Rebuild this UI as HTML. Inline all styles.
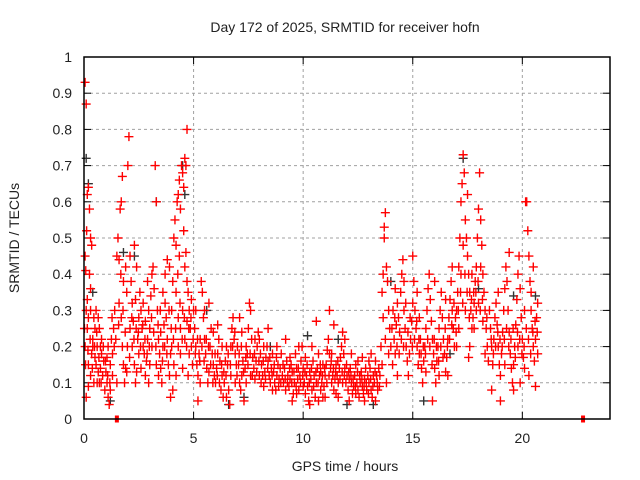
<!DOCTYPE html>
<html><head><meta charset="utf-8"><style>
html,body{margin:0;padding:0;background:#fff;}
svg{display:block;font-family:"Liberation Sans",sans-serif;}
</style></head><body>
<svg id="chart" width="640" height="480" viewBox="0 0 640 480" xmlns="http://www.w3.org/2000/svg">
<rect width="640" height="480" fill="#fff"/>
<text x="345" y="32" font-size="14" text-anchor="middle" fill="#222">Day 172 of 2025, SRMTID for receiver hofn</text>
<text x="345" y="471" font-size="14" text-anchor="middle" fill="#222">GPS time / hours</text>
<text transform="translate(19,238) rotate(-90)" font-size="14" text-anchor="middle" fill="#222">SRMTID / TECUs</text>
<g id="grid"></g>
<g id="ticks"></g>
<g id="marks"></g>
<rect x="84" y="57" width="526" height="362" fill="none" stroke="#000" stroke-width="1.5"/>
</svg>
<script>
const xTicks=[0,5,10,15,20];
const yTicks=[0,0.1,0.2,0.3,0.4,0.5,0.6,0.7,0.8,0.9,1];
const yTickLabels=["0","0.1","0.2","0.3","0.4","0.5","0.6","0.7","0.8","0.9","1"];
const zeroMarks=[1.5,22.77];
const redPoints=[[0.05,0.93],[0.1,0.87],[0.05,0.45],[0.08,0.41],[0.12,0.52],[0.15,0.62],[0.2,0.64],[0.25,0.58],[0.1,0.3],[0.15,0.25],[0.05,0.2],[0.2,0.15],[0.3,0.12],[0.35,0.18],[0.4,0.22],[0.45,0.28],[0.3,0.3],[0.5,0.25],[0.55,0.15],[0.6,0.1],[0.25,0.4],[0.3,0.5],[0.35,0.48],[0.4,0.2],[0.5,0.17],[0.6,0.2],[0.65,0.13],[0.7,0.1],[0.75,0.14],[0.8,0.18],[0.85,0.12],[0.9,0.16],[0.95,0.08],[0.1,0.06],[0.2,0.09],[0.45,0.1],[0.55,0.3],[0.7,0.25],[0.8,0.22],[0.3,0.36],[0.15,0.33],[0.2,0.28],[0.65,0.28],[0.75,0.2],
[1.0,0.13],[1.05,0.1],[1.1,0.06],[1.15,0.04],[1.2,0.08],[1.05,0.17],[1.1,0.2],[1.2,0.15],[1.3,0.12],[1.35,0.25],[1.4,0.3],[1.45,0.22],[1.5,0.45],[1.55,0.5],[1.6,0.44],[1.65,0.58],[1.7,0.6],[1.75,0.67],[1.6,0.32],[1.7,0.28],[1.75,0.2],[1.8,0.15],[1.85,0.1],[1.9,0.14],[1.95,0.13],[1.8,0.38],[1.9,0.42],[1.95,0.35],[1.3,0.18],[1.5,0.1],[1.25,0.22],
[2.0,0.7],[2.05,0.78],[2.1,0.45],[2.15,0.38],[2.2,0.32],[2.1,0.25],[2.2,0.2],[2.3,0.15],[2.35,0.1],[2.4,0.13],[2.45,0.22],[2.5,0.28],[2.55,0.35],[2.6,0.3],[2.65,0.25],[2.7,0.2],[2.75,0.18],[2.8,0.12],[2.85,0.16],[2.9,0.22],[2.95,0.3],[2.3,0.48],[2.4,0.42],[2.5,0.18],[2.6,0.14],[2.7,0.32],[2.8,0.27],[2.9,0.38],[2.25,0.27],[2.35,0.33],[2.95,0.1],
[3.0,0.25],[3.05,0.34],[3.1,0.4],[3.15,0.42],[3.2,0.36],[3.25,0.7],[3.3,0.6],[3.35,0.3],[3.4,0.22],[3.45,0.18],[3.5,0.14],[3.55,0.1],[3.6,0.2],[3.65,0.26],[3.7,0.32],[3.75,0.28],[3.8,0.22],[3.85,0.15],[3.9,0.12],[3.95,0.18],[3.3,0.15],[3.5,0.24],[3.7,0.4],[3.8,0.44],[3.9,0.42],[3.6,0.35],[3.4,0.12],[3.0,0.15],[3.1,0.2],[3.95,0.06],
[4.0,0.3],[4.05,0.38],[4.1,0.5],[4.15,0.55],[4.2,0.48],[4.25,0.6],[4.3,0.62],[4.35,0.66],[4.4,0.58],[4.45,0.7],[4.5,0.68],[4.55,0.64],[4.6,0.72],[4.65,0.7],[4.7,0.8],[4.2,0.35],[4.3,0.28],[4.4,0.25],[4.5,0.3],[4.6,0.42],[4.7,0.38],[4.75,0.35],[4.8,0.3],[4.85,0.25],[4.9,0.2],[4.95,0.15],[4.0,0.2],[4.1,0.15],[4.2,0.12],[4.3,0.2],[4.4,0.18],[4.5,0.14],[4.6,0.22],[4.7,0.27],[4.8,0.18],[4.05,0.08],[4.35,0.45],[4.55,0.52],[4.65,0.46],[4.9,0.33],[4.75,0.12],
[5.0,0.3],[5.05,0.25],[5.1,0.2],[5.15,0.15],[5.2,0.12],[5.25,0.18],[5.3,0.22],[5.35,0.38],[5.4,0.35],[5.45,0.28],[5.5,0.22],[5.55,0.18],[5.6,0.14],[5.65,0.1],[5.7,0.13],[5.75,0.2],[5.8,0.25],[5.85,0.18],[5.9,0.15],[5.95,0.12],[6.0,0.1],[6.05,0.14],[6.1,0.18],[6.15,0.22],[6.2,0.16],[6.25,0.08],[6.3,0.12],[6.35,0.06],[6.4,0.1],[6.45,0.16],[6.5,0.2],[6.55,0.15],[6.6,0.08],[6.65,0.04],[6.7,0.2],[6.75,0.25],[6.8,0.28],[6.85,0.22],[6.9,0.18],[6.95,0.15],[5.1,0.3],[5.3,0.1],[5.5,0.3],[5.7,0.32],[5.9,0.24],[6.1,0.26],[6.3,0.2],[6.5,0.06],[6.7,0.12],[6.9,0.1],[5.2,0.05],
[7.0,0.2],[7.05,0.15],[7.1,0.1],[7.15,0.08],[7.2,0.12],[7.25,0.16],[7.3,0.05],[7.35,0.14],[7.4,0.2],[7.45,0.18],[7.5,0.25],[7.55,0.32],[7.6,0.3],[7.65,0.22],[7.7,0.17],[7.75,0.14],[7.8,0.11],[7.85,0.16],[7.9,0.2],[7.95,0.24],[8.0,0.22],[8.05,0.18],[8.1,0.15],[8.15,0.12],[8.2,0.09],[8.25,0.13],[8.3,0.17],[8.35,0.2],[8.4,0.16],[8.45,0.12],[8.5,0.1],[8.55,0.14],[8.6,0.18],[8.65,0.13],[8.7,0.1],[8.75,0.08],[8.8,0.12],[8.85,0.15],[8.9,0.11],[8.95,0.14],[7.2,0.24],[7.4,0.1],[7.6,0.12],[7.8,0.22],[8.0,0.12],[8.2,0.2],[8.4,0.25],[8.6,0.08],[8.8,0.2],[7.1,0.28],[9.0,0.18],
[9.05,0.12],[9.1,0.1],[9.15,0.14],[9.2,0.08],[9.25,0.16],[9.3,0.12],[9.35,0.09],[9.4,0.11],[9.45,0.15],[9.5,0.13],[9.55,0.07],[9.6,0.1],[9.65,0.18],[9.7,0.14],[9.75,0.11],[9.8,0.08],[9.85,0.12],[9.9,0.16],[9.95,0.2],[10.0,0.14],[10.05,0.1],[10.1,0.07],[10.15,0.12],[10.2,0.09],[10.25,0.05],[10.3,0.13],[10.35,0.11],[10.4,0.08],[10.45,0.16],[10.5,0.12],[10.55,0.06],[10.6,0.1],[10.65,0.14],[10.7,0.18],[10.75,0.12],[10.8,0.08],[10.85,0.1],[10.9,0.06],[10.95,0.09],[11.0,0.12],[11.05,0.15],[11.1,0.19],[11.15,0.22],[11.2,0.18],[11.25,0.14],[11.3,0.1],[11.35,0.12],[11.4,0.08],[11.45,0.11],[11.5,0.15],[11.55,0.12],[11.6,0.1],[11.65,0.14],[11.7,0.17],[11.75,0.2],[11.8,0.24],[11.85,0.18],[11.9,0.14],[11.95,0.1],[12.0,0.12],[12.05,0.08],[12.1,0.11],[12.15,0.14],[12.2,0.1],[12.25,0.07],[12.3,0.09],[12.35,0.12],[12.4,0.15],[12.45,0.1],[12.5,0.08],[12.55,0.06],[12.6,0.1],[12.65,0.13],[12.7,0.09],[12.75,0.07],[12.8,0.11],[12.85,0.14],[12.9,0.08],[12.95,0.12],[13.0,0.1],[13.05,0.14],[13.1,0.08],[13.15,0.06],[13.2,0.12],[13.25,0.1],[13.3,0.16],[13.35,0.12],[13.4,0.08],[13.45,0.14],[9.2,0.22],[9.5,0.05],[9.8,0.2],[10.1,0.17],[10.4,0.2],[10.7,0.05],[11.0,0.06],[11.3,0.18],[11.6,0.06],[11.9,0.22],[12.2,0.18],[12.5,0.16],[12.8,0.05],[13.1,0.18],[9.7,0.07],[10.3,0.04],[10.9,0.15],[11.5,0.07],[12.1,0.05],[12.7,0.17],[13.3,0.05],[10.6,0.27],[11.2,0.3],[11.4,0.26],[9.4,0.17],[10.0,0.09],[10.8,0.13],[11.8,0.1],[12.4,0.07],[13.0,0.16],
[13.5,0.12],[13.55,0.2],[13.6,0.35],[13.65,0.4],[13.7,0.5],[13.75,0.57],[13.7,0.53],[13.8,0.42],[13.85,0.38],[13.9,0.3],[13.95,0.25],[13.6,0.15],[13.8,0.1],[13.9,0.18],[13.65,0.28],[13.75,0.22],
[14.0,0.2],[14.05,0.25],[14.1,0.3],[14.15,0.22],[14.2,0.18],[14.25,0.26],[14.3,0.32],[14.35,0.28],[14.4,0.24],[14.45,0.35],[14.5,0.4],[14.55,0.44],[14.6,0.3],[14.65,0.25],[14.7,0.2],[14.75,0.16],[14.8,0.12],[14.85,0.18],[14.9,0.22],[14.95,0.27],[15.0,0.32],[15.05,0.38],[15.1,0.3],[15.15,0.25],[15.2,0.2],[15.25,0.15],[15.3,0.18],[15.35,0.22],[15.4,0.14],[15.45,0.1],[15.5,0.16],[15.55,0.2],[15.6,0.25],[15.65,0.3],[15.7,0.36],[15.75,0.4],[15.8,0.33],[15.85,0.27],[15.9,0.22],[15.95,0.18],[16.0,0.14],[16.05,0.1],[16.1,0.16],[16.15,0.2],[16.2,0.25],[16.25,0.3],[16.3,0.35],[16.35,0.28],[16.4,0.22],[16.45,0.18],[16.5,0.13],[16.55,0.17],[16.6,0.22],[16.65,0.28],[16.7,0.33],[16.75,0.38],[16.8,0.3],[16.85,0.25],[16.9,0.2],[16.95,0.28],[14.3,0.12],[14.6,0.38],[15.0,0.45],[15.3,0.28],[15.6,0.13],[15.9,0.05],[16.2,0.12],[16.5,0.33],[16.8,0.42],[14.2,0.36],[15.2,0.35],[16.0,0.38],[16.6,0.12],
[17.0,0.3],[17.05,0.35],[17.1,0.42],[17.15,0.5],[17.2,0.6],[17.25,0.65],[17.3,0.73],[17.35,0.68],[17.4,0.55],[17.45,0.5],[17.5,0.45],[17.55,0.4],[17.6,0.35],[17.65,0.3],[17.7,0.25],[17.75,0.28],[17.8,0.32],[17.85,0.38],[17.9,0.42],[17.95,0.5],[18.0,0.58],[18.05,0.68],[18.1,0.55],[18.15,0.48],[18.2,0.4],[18.25,0.35],[18.3,0.3],[18.35,0.25],[18.4,0.2],[18.45,0.16],[17.2,0.4],[17.4,0.3],[17.6,0.2],[17.8,0.25],[18.0,0.32],[18.2,0.27],[17.1,0.25],[17.3,0.48],[17.5,0.62],[17.7,0.4],[17.9,0.3],[18.1,0.42],[18.3,0.18],[17.0,0.2],[17.55,0.17],
[18.5,0.3],[18.55,0.25],[18.6,0.2],[18.65,0.15],[18.7,0.22],[18.75,0.28],[18.8,0.32],[18.85,0.26],[18.9,0.2],[18.95,0.15],[19.0,0.12],[19.05,0.18],[19.1,0.24],[19.15,0.3],[19.2,0.36],[19.25,0.42],[19.3,0.38],[19.35,0.3],[19.4,0.24],[19.45,0.18],[19.5,0.14],[19.55,0.1],[19.6,0.15],[19.65,0.2],[19.7,0.26],[19.75,0.33],[19.8,0.4],[19.85,0.45],[19.9,0.36],[19.95,0.28],[20.0,0.22],[20.05,0.17],[20.1,0.14],[20.15,0.6],[20.2,0.6],[20.25,0.52],[20.3,0.45],[20.35,0.38],[20.4,0.3],[20.45,0.25],[20.5,0.2],[20.55,0.16],[20.6,0.22],[20.65,0.28],[20.7,0.32],[18.6,0.08],[19.0,0.05],[19.4,0.46],[19.6,0.08],[19.9,0.1],[20.3,0.12],[20.6,0.09],[20.7,0.18],[18.9,0.35],[19.2,0.15],[19.8,0.2],[20.1,0.3],[20.4,0.35],[20.5,0.42]];
const redExtra=[[0.02,0.25],[0.07,0.15],[0.18,0.19],[0.28,0.22],[0.38,0.14],[0.48,0.2],[0.58,0.24],[0.68,0.17],[0.78,0.1],[0.88,0.2],[0.98,0.16],[1.08,0.12],[1.18,0.1],[1.28,0.28],[1.38,0.2],[1.58,0.26],[1.68,0.4],[1.78,0.3],[1.88,0.24],[1.98,0.2],[2.08,0.17],[2.18,0.28],[2.28,0.22],[2.38,0.25],[2.48,0.24],[2.58,0.2],[2.68,0.26],[2.78,0.22],[2.88,0.18],[2.98,0.2],[3.08,0.28],[3.18,0.24],[3.28,0.2],[3.38,0.26],[3.48,0.3],[3.58,0.16],[3.68,0.2],[3.78,0.18],[3.88,0.3],[3.98,0.25],[4.08,0.22],[4.18,0.25],[4.28,0.4],[4.38,0.32],[4.48,0.22],[4.58,0.28],[4.68,0.2],[4.78,0.25],[4.88,0.28],[4.98,0.22],[5.08,0.18],[5.18,0.22],[5.28,0.16],[5.38,0.2],[5.48,0.16],[5.58,0.22],[5.68,0.2],[5.78,0.15],[5.88,0.1],[5.98,0.18],[6.08,0.12],[6.18,0.1],[6.28,0.15],[6.38,0.13],[6.48,0.12],[6.58,0.18],[6.68,0.15],[6.78,0.2],[6.88,0.24],[6.98,0.12],[7.08,0.18],[7.18,0.2],[7.28,0.13],[7.38,0.17],[7.48,0.15],[7.58,0.18],[7.68,0.12],[7.78,0.18],[7.88,0.13],[7.98,0.16],[8.08,0.1],[8.18,0.16],[8.28,0.11],[8.38,0.14],[8.48,0.17],[8.58,0.12],[8.68,0.15],[8.78,0.17],[8.88,0.09],[8.98,0.1],[9.08,0.15],[9.18,0.11],[9.28,0.1],[9.38,0.14],[9.48,0.1],[9.58,0.13],[9.68,0.09],[9.78,0.14],[9.88,0.1],[9.98,0.12],[10.08,0.13],[10.18,0.15],[10.28,0.1],[10.38,0.14],[10.48,0.09],[10.58,0.13],[10.68,0.1],[10.78,0.15],[10.88,0.12],[10.98,0.14],[11.08,0.1],[11.18,0.12],[11.28,0.16],[11.38,0.14],[11.48,0.13],[11.58,0.16],[11.68,0.11],[11.78,0.13],[11.88,0.12],[11.98,0.15],[12.08,0.13],[12.18,0.12],[12.28,0.11],[12.38,0.09],[12.48,0.13],[12.58,0.12],[12.68,0.11],[12.78,0.09],[12.88,0.1],[12.98,0.07],[13.08,0.11],[13.18,0.09],[13.28,0.13],[13.38,0.1],[13.48,0.09],[14.08,0.15],[14.18,0.28],[14.28,0.2],[14.38,0.18],[14.48,0.22],[14.58,0.2],[14.68,0.32],[14.78,0.24],[14.88,0.28],[14.98,0.2],[15.08,0.22],[15.18,0.27],[15.28,0.22],[15.38,0.18],[15.48,0.2],[15.58,0.18],[15.68,0.22],[15.78,0.2],[15.88,0.15],[15.98,0.22],[16.08,0.2],[16.18,0.16],[16.28,0.2],[16.38,0.17],[16.48,0.25],[16.58,0.2],[16.68,0.22],[16.78,0.26],[16.88,0.32],[16.98,0.24],[17.08,0.3],[17.18,0.35],[17.28,0.32],[17.38,0.4],[17.48,0.35],[17.58,0.28],[17.68,0.33],[17.78,0.35],[17.88,0.35],[17.98,0.38],[18.08,0.3],[18.18,0.33],[18.38,0.28],[18.58,0.22],[18.68,0.18],[18.78,0.2],[18.88,0.24],[18.98,0.22],[19.08,0.2],[19.18,0.22],[19.28,0.25],[19.38,0.2],[19.48,0.22],[19.58,0.25],[19.68,0.17],[19.78,0.24],[19.88,0.22],[19.98,0.18],[20.08,0.2],[20.18,0.25],[20.28,0.22],[20.38,0.18],[20.48,0.24],[20.58,0.27],[20.68,0.24]];
const blackPoints=[[0.1,0.72],[0.2,0.65],[0.4,0.35],[1.2,0.05],[1.8,0.46],[2.3,0.45],[4.5,0.7],[4.6,0.62],[6.6,0.04],[7.3,0.06],[10.2,0.23],[12.0,0.04],[14.0,0.38],[15.5,0.05],[16.7,0.18],[17.3,0.72],[18.0,0.36],[19.6,0.34],[20.6,0.34],[3.3,0.6],[5.6,0.3],[8.5,0.2],[11.6,0.22],[13.2,0.04]];

const L=84,R=610,T=57,B=419,XMAX=24,YMAX=1;
function xs(v){return L+(v/XMAX)*(R-L);}
function ys(v){return B-(v/YMAX)*(B-T);}
const NS="http://www.w3.org/2000/svg";
function mk(tag,attrs,parent){const e=document.createElementNS(NS,tag);for(const k in attrs)e.setAttribute(k,attrs[k]);parent.appendChild(e);return e;}
const grid=document.getElementById('grid'),ticks=document.getElementById('ticks'),marks=document.getElementById('marks');
xTicks.forEach(t=>{
  const x=xs(t);
  if(t>0){const g=mk('line',{x1:x,y1:T,x2:x,y2:B,stroke:'#a0a0a0','stroke-dasharray':'3,3','stroke-width':1},grid);
  
  }
  mk('line',{x1:x,y1:B,x2:x,y2:B-7,stroke:'#000'},ticks);
  mk('line',{x1:x,y1:T,x2:x,y2:T+7,stroke:'#000'},ticks);
  const lb=mk('text',{x:x,y:B+24,'font-size':14,'text-anchor':'middle',fill:'#222'},ticks);
  lb.textContent=String(t);
  
  
});
yTicks.forEach((t,i)=>{
  const y=ys(t);
  if(t>0&&t<1){const g=mk('line',{x1:L,y1:y,x2:R,y2:y,stroke:'#a0a0a0','stroke-dasharray':'3,3','stroke-width':1},grid);
  
  }
  mk('line',{x1:L,y1:y,x2:L+7,y2:y,stroke:'#000'},ticks);
  mk('line',{x1:R,y1:y,x2:R-7,y2:y,stroke:'#000'},ticks);
  const lb=mk('text',{x:L-12,y:y+5,'font-size':14,'text-anchor':'end',fill:'#222'},ticks);
  lb.textContent=yTickLabels[i];
  
  
});
function plus(t,v,color,name){
  const x=xs(t),y=ys(v);
  const p=mk('path',{d:`M${x-4.5} ${y}H${x+4.5}M${x} ${y-4.5}V${y+4.5}`,stroke:color,'stroke-width':1.4,fill:'none'},marks);
  
  
}
blackPoints.forEach(p=>plus(p[0],p[1],'#333','black-point'));
redPoints.forEach(p=>plus(p[0],p[1],'#ff0000','red-point'));
redExtra.forEach(p=>plus(p[0],p[1],'#ff0000','red-point'));
zeroMarks.forEach(t=>{
  const r=mk('rect',{x:xs(t)-2,y:ys(0)-3.5,width:4,height:7,fill:'#ff0000'},marks);
  
  
});
</script>
</body></html>
